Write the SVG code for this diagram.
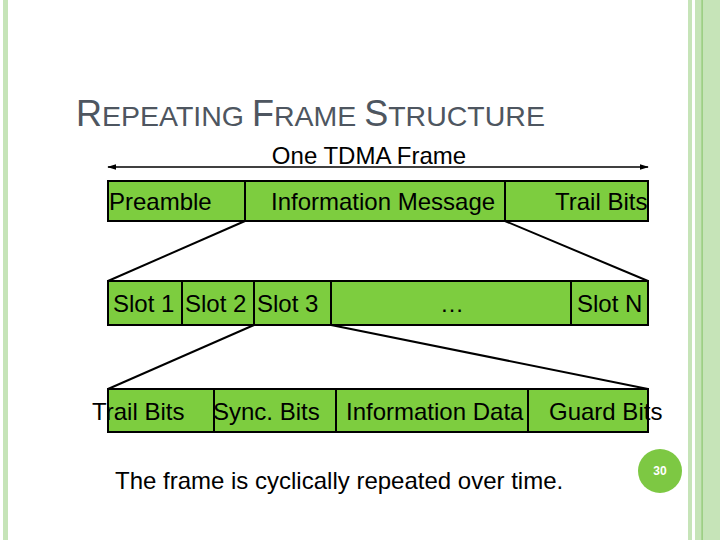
<svg xmlns="http://www.w3.org/2000/svg" width="720" height="540" viewBox="0 0 720 540">
<style>
.box{fill:#7dcd3f;stroke:#000;stroke-width:2}
.t{font-family:"Liberation Sans",Arial,sans-serif;font-size:24px;fill:#000}
.conn{stroke:#000;stroke-width:2;fill:none}
.title{font-family:"Liberation Sans",Arial,sans-serif;fill:#4e5660}
</style>
<defs>
<marker id="arr" viewBox="0 0 10 10" refX="9" refY="5" markerWidth="6" markerHeight="6" orient="auto-start-reverse">
<path d="M0,2 L10,5 L0,8 z" fill="#000"/>
</marker>
</defs>
<rect width="720" height="540" fill="#fff"/>
<g id="border">
<rect x="3" y="0" width="5" height="540" fill="#c6e4b8"/>
<rect x="688" y="0" width="4" height="540" fill="#c6e4b8"/>
<rect x="695" y="0" width="25" height="540" fill="#c6e4b8"/>
<rect x="701.5" y="0" width="1.2" height="540" fill="#8cc66e"/>
</g>
<text class="title" x="76" y="126"><tspan font-size="36">R</tspan><tspan font-size="28.5">EPEATING </tspan><tspan font-size="36">F</tspan><tspan font-size="28.5">RAME </tspan><tspan font-size="36">S</tspan><tspan font-size="28.5">TRUCTURE</tspan></text>
<g id="frame-label">
<line x1="108" y1="167" x2="648" y2="167" stroke="#000" stroke-width="1.5" marker-start="url(#arr)" marker-end="url(#arr)"/>
<text class="t" x="369" y="164" text-anchor="middle">One TDMA Frame</text>
</g>
<g id="connectors">
<line class="conn" x1="245" y1="221" x2="108" y2="281"/>
<line class="conn" x1="505" y1="221" x2="648" y2="281"/>
<line class="conn" x1="254" y1="325" x2="108" y2="389"/>
<line class="conn" x1="331" y1="325" x2="648" y2="389"/>
</g>
<g id="preamble"><rect class="box" x="108" y="181" width="137" height="40"/><text class="t" x="109" y="210">Preamble</text></g>
<g id="info-message"><rect class="box" x="245" y="181" width="260" height="40"/><text class="t" x="271" y="210">Information Message</text></g>
<g id="trail-bits-top"><rect class="box" x="505" y="181" width="143" height="40"/><text class="t" x="555" y="210">Trail Bits</text></g>
<g id="slot1"><rect class="box" x="108" y="281" width="74" height="44"/><text class="t" x="113" y="312">Slot 1</text></g>
<g id="slot2"><rect class="box" x="182" y="281" width="72" height="44"/><text class="t" x="185" y="312">Slot 2</text></g>
<g id="slot3"><rect class="box" x="254" y="281" width="77" height="44"/><text class="t" x="257" y="312">Slot 3</text></g>
<g id="slot-dots"><rect class="box" x="331" y="281" width="240" height="44"/><text class="t" x="452" y="312" text-anchor="middle">…</text></g>
<g id="slotN"><rect class="box" x="571" y="281" width="77" height="44"/><text class="t" x="577" y="312">Slot N</text></g>
<g id="trail-bits"><rect class="box" x="108" y="389" width="106" height="43"/><text class="t" x="92" y="420">Trail Bits</text></g>
<g id="sync-bits"><rect class="box" x="214" y="389" width="122" height="43"/><text class="t" x="213" y="420">Sync. Bits</text></g>
<g id="info-data"><rect class="box" x="336" y="389" width="192" height="43"/><text class="t" x="346" y="420">Information Data</text></g>
<g id="guard-bits"><rect class="box" x="528" y="389" width="120" height="43"/><text class="t" x="549" y="420">Guard Bits</text></g>
<text class="t" x="115" y="489">The frame is cyclically repeated over time.</text>
<g id="page-number">
<circle cx="660" cy="471" r="22" fill="#7dc843"/>
<text x="660" y="475" text-anchor="middle" font-family="'Liberation Sans',Arial,sans-serif" font-size="12" font-weight="bold" fill="#fff">30</text>
</g>
</svg>
